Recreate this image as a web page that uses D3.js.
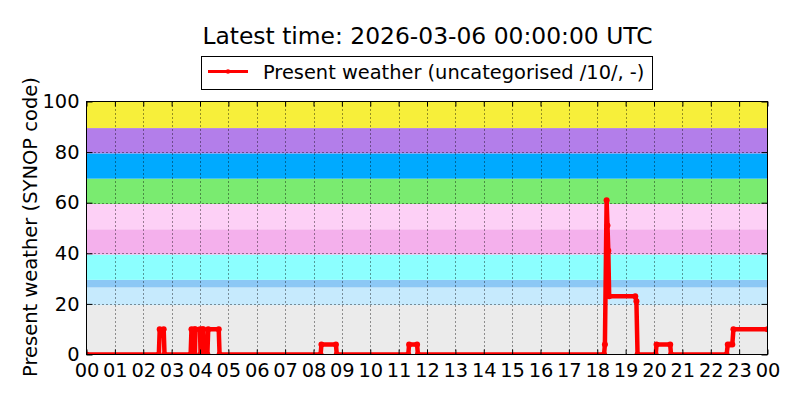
<!DOCTYPE html>
<html>
<head>
<meta charset="utf-8">
<script src="https://cdn.jsdelivr.net/npm/d3@7"></script>
<style>
  html, body { margin: 0; padding: 0; background: #fff; }
  svg { display: block; font-family: "DejaVu Sans", sans-serif; }
</style>
</head>
<body>
<svg id="chart" width="800" height="400"></svg>
<script>
// ---- data ----
const titleText = "Latest time: 2026-03-06 00:00:00 UTC";
const seriesName = "Present weather (uncategorised /10/, -)";
const yLabel = "Present weather (SYNOP code)";

const xTickValues = [0,1,2,3,4,5,6,7,8,9,10,11,12,13,14,15,16,17,18,19,20,21,22,23,24];
const xTickLabels = ["00","01","02","03","04","05","06","07","08","09","10","11","12","13","14","15","16","17","18","19","20","21","22","23","00"];
const yTickValues = [0,20,40,60,80,100];

const bandLow   = [-1, 19.5, 26.5, 29.5, 39.5, 49.5, 59.5, 69.5, 79.5, 89.5];
const bandHigh  = [19.5, 26.5, 29.5, 39.5, 49.5, 59.5, 69.5, 79.5, 89.5, 101];
const bandColor = ["#ebebeb","#c6eafd","#8cc8f5","#8cffff","#f4b0ec","#fdd0f6","#7aeb70","#00aaff","#b37eea","#f7ef3a"];

// hours since 00 UTC, and present-weather code
const hours = [0, 2.55, 2.58, 2.72, 2.75,
  3.67, 3.70, 3.80, 3.82, 3.84, 4.00, 4.02, 4.06, 4.08, 4.12, 4.14,
  4.26, 4.29, 4.66, 4.69,
  8.25, 8.28, 8.79, 8.82,
  11.34, 11.37, 11.65, 11.68,
  18.24, 18.27, 18.33, 18.36, 18.39, 18.42, 19.34, 19.38, 19.42,
  20.06, 20.09, 20.57, 20.60,
  22.56, 22.60, 22.68, 22.76, 22.80, 24];
const codes = [0, 0, 10, 10, 0,
  0, 10, 10, 0, 10, 10, 0, 0, 10, 10, 0,
  0, 10, 10, 0,
  0, 4, 4, 0,
  0, 4, 4, 0,
  0, 4, 61, 51, 41, 23, 23, 21, 0,
  0, 4, 4, 0,
  0, 4, 4, 4, 10, 10];

// ---- layout ----
const svg = d3.select("#chart");
const L = 86.5, R = 767.5, T = 101.5, B = 354.5;
const x = d3.scaleLinear().domain([0, 24]).range([L, R]);
const y = d3.scaleLinear().domain([0, 100]).range([B, T]);

svg.append("defs").append("clipPath").attr("id", "clip")
  .append("rect").attr("x", L).attr("y", T).attr("width", R - L).attr("height", B - T);

// bands
svg.append("g").attr("clip-path", "url(#clip)")
  .selectAll("rect").data(bandColor).join("rect")
  .attr("x", L).attr("width", R - L)
  .attr("y", (d, i) => y(bandHigh[i]))
  .attr("height", (d, i) => y(bandLow[i]) - y(bandHigh[i]))
  .attr("fill", d => d);

// grid
const grid = svg.append("g").attr("stroke", "#000").attr("stroke-width", 1)
  .attr("stroke-dasharray", "1,3").attr("opacity", 0.8);
grid.selectAll("line.v").data(xTickValues.slice(1, -1)).join("line")
  .attr("x1", d => Math.round(x(d)) + 0.5).attr("x2", d => Math.round(x(d)) + 0.5)
  .attr("y1", T).attr("y2", B);
grid.selectAll("line.h").data(yTickValues.slice(1, -1)).join("line")
  .attr("y1", d => Math.round(y(d)) + 0.5).attr("y2", d => Math.round(y(d)) + 0.5)
  .attr("x1", L).attr("x2", R);

// series
const pts = hours.map((h, i) => [h, codes[i]]);
const plot = svg.append("g").attr("clip-path", "url(#clip)");
plot.append("path").datum(pts)
  .attr("fill", "none").attr("stroke", "#ff0000").attr("stroke-width", 4.5)
  .attr("stroke-linejoin", "round").attr("stroke-linecap", "round")
  .attr("d", d3.line().x(d => x(d[0])).y(d => y(d[1])));
plot.selectAll("circle").data(pts).join("circle")
  .attr("cx", d => x(d[0])).attr("cy", d => y(d[1])).attr("r", 3)
  .attr("fill", "#ff0000");

// axes
const fs = "19.4px";
const axB = svg.append("g").attr("transform", `translate(0,${B})`)
  .call(d3.axisBottom(x).tickValues(xTickValues).tickFormat((d, i) => xTickLabels[i])
    .tickSizeInner(-5).tickSizeOuter(0).tickPadding(9));
const axT = svg.append("g").attr("transform", `translate(0,${T})`)
  .call(d3.axisTop(x).tickValues(xTickValues).tickFormat("").tickSizeInner(-5).tickSizeOuter(0));
const axL = svg.append("g").attr("transform", `translate(${L},0)`)
  .call(d3.axisLeft(y).tickValues(yTickValues).tickSizeInner(-6).tickSizeOuter(0).tickPadding(7));
const axR = svg.append("g").attr("transform", `translate(${R},0)`)
  .call(d3.axisRight(y).tickValues(yTickValues).tickFormat("").tickSizeInner(-6).tickSizeOuter(0));
[axB, axT, axL, axR].forEach(a => {
  a.select(".domain").remove();
  a.selectAll("line").attr("stroke", "#000");
  a.selectAll("text").attr("font-size", fs).attr("font-family", "DejaVu Sans").attr("fill", "#000");
});

// frame
svg.append("rect").attr("x", L).attr("y", T).attr("width", R - L).attr("height", B - T)
  .attr("fill", "none").attr("stroke", "#000").attr("stroke-width", 1);

// title
svg.append("text").attr("x", 427.5).attr("y", 44).attr("text-anchor", "middle")
  .attr("font-size", "23.4px").text(titleText);

// y label
svg.append("text").attr("transform", "translate(37,227) rotate(-90)")
  .attr("text-anchor", "middle").attr("font-size", "19.5px").text(yLabel);

// legend
const lg = svg.append("g");
lg.append("rect").attr("x", 201.5).attr("y", 56.5).attr("width", 451).attr("height", 33)
  .attr("fill", "#fff").attr("stroke", "#000").attr("stroke-width", 1);
lg.append("line").attr("x1", 208).attr("x2", 248).attr("y1", 71.5).attr("y2", 71.5)
  .attr("stroke", "#ff0000").attr("stroke-width", 3);
lg.append("circle").attr("cx", 228).attr("cy", 71.5).attr("r", 2.2).attr("fill", "#ff0000");
lg.append("text").attr("x", 263).attr("y", 78.5).attr("font-size", "19.4px").text(seriesName);
</script>
</body>
</html>
